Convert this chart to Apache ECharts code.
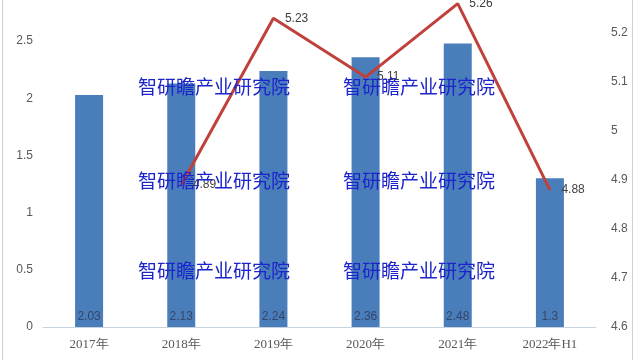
<!DOCTYPE html>
<html><head><meta charset="utf-8">
<script src="https://cdn.jsdelivr.net/npm/echarts@6/dist/echarts.min.js"></script>
<style>html,body{margin:0;padding:0;background:#fff;overflow:hidden;width:640px;height:360px}#c{width:640px;height:376px;margin-top:-16px}</style>
</head><body><div id="c"></div>
<script>
var categories = ['2017年','2018年','2019年','2020年','2021年','2022年H1'];
var barValues = [2.03, 2.13, 2.24, 2.36, 2.48, 1.3];
var lineCategories = ['2018年','2019年','2020年','2021年','2022年H1'];
var lineValues = [4.89, 5.23, 5.11, 5.26, 4.88];
var leftTicks = [0, 0.5, 1, 1.5, 2, 2.5, 3];
var rightTicks = [4.6, 4.7, 4.8, 4.9, 5, 5.1, 5.2, 5.3];
var watermark = '智研瞻产业研究院';

var lineData = categories.map(function(c){
  var i = lineCategories.indexOf(c);
  return i >= 0 ? lineValues[i] : null;
});

var OFF = 16;
var chart = echarts.init(document.getElementById('c'), null, {renderer:'canvas'});
var wmPos = [[138,88],[343,88],[138,182],[343,182],[138,272],[343,272]];
var graphics = wmPos.map(function(p){
  return {type:'text', left:p[0], top:p[1]-11+OFF, z:100,
    style:{text:watermark, fill:'#1c24cc', font:'19px "Noto Sans CJK SC"'}};
});
graphics.push({type:'rect', shape:{x:2,y:0,width:1,height:376}, style:{fill:'#d0d0d0'}, z:50});
graphics.push({type:'rect', shape:{x:632,y:0,width:1,height:376}, style:{fill:'#d0d0d0'}, z:50});

chart.setOption({
  animation:false,
  backgroundColor:'#ffffff',
  grid:{left:43, right:44, top:0, bottom:33},
  graphic: graphics,
  xAxis:{type:'category', data:categories,
    axisLine:{lineStyle:{color:'#c8d3e0', width:1}},
    axisTick:{show:false},
    axisLabel:{color:'#595959', fontFamily:'Liberation Serif', fontSize:13, margin:11}},
  yAxis:[
    {type:'value', min:leftTicks[0], max:leftTicks[leftTicks.length-1], interval:0.5, position:'left',
     axisLine:{show:false}, axisTick:{show:false}, splitLine:{show:false},
     axisLabel:{color:'#595959', fontSize:12, fontFamily:'Liberation Sans', margin:10, showMaxLabel:false,
       formatter:function(v){return String(v);}}},
    {type:'value', min:rightTicks[0], max:rightTicks[rightTicks.length-1], interval:0.1, position:'right',
     axisLine:{show:false}, axisTick:{show:false}, splitLine:{show:false},
     axisLabel:{color:'#595959', fontSize:12, fontFamily:'Liberation Sans', margin:15, showMaxLabel:false,
       formatter:function(v){return String(Math.round(v*10)/10);}}}
  ],
  series:[
    {type:'bar', data:barValues, yAxisIndex:0, barWidth:28,
     itemStyle:{color:'#4a7ebb'},
     label:{show:true, position:'insideBottom', distance:4, color:'#34466a', fontSize:12, fontFamily:'Liberation Sans'}},
    {type:'line', data:lineData, yAxisIndex:1, clip:false, symbol:'circle', symbolSize:1, showSymbol:true,
     itemStyle:{color:'#c0403b'},
     lineStyle:{color:'#c0403b', width:3},
     label:{show:true, position:'right', distance:11, color:'#404040', fontSize:12, fontFamily:'Liberation Sans'},
     z:5}
  ]
});
</script></body></html>
